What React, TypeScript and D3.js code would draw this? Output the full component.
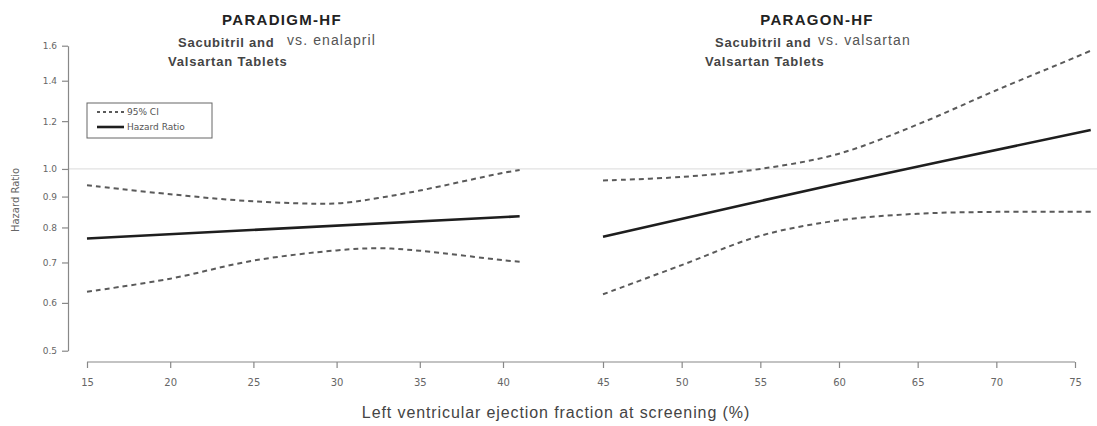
import React, {useRef, useEffect} from 'react'
import * as d3 from 'd3'

// PARADIGM-HF (LVEF 15-41)
const paradigmEf = [15, 20, 25, 30, 32.5, 35, 40, 41]
const paradigmUpper = [0.94, 0.908, 0.884, 0.877, 0.895, 0.921, 0.985, 0.996]
const paradigmLower = [0.626, 0.658, 0.705, 0.733, 0.739, 0.732, 0.706, 0.702]
const paradigmHrEf = [15, 41]
const paradigmHr = [0.767, 0.835]

// PARAGON-HF (LVEF 45-76)
const paragonEf = [45, 50, 55, 60, 65, 70, 75, 76]
const paragonUpper = [0.957, 0.97, 1.0, 1.06, 1.185, 1.35, 1.53, 1.57]
const paragonLower = [0.62, 0.693, 0.775, 0.822, 0.843, 0.849, 0.849, 0.849]
const paragonHrEf = [45, 60, 76]
const paragonHr = [0.772, 0.946, 1.16]

const leftTicks = [15, 20, 25, 30, 35, 40]
const rightTicks = [45, 50, 55, 60, 65, 70, 75]
const yTicks = [0.5, 0.6, 0.7, 0.8, 0.9, 1.0, 1.2, 1.4, 1.6]

const W = 1097
const H = 426

function App() {
  const ref: any = useRef<SVGSVGElement>(null)

  useEffect(() => {
    const svg = d3.select(ref.current)
    svg.selectAll('*').remove()

    const xLeft = d3.scaleLinear().domain([15, 40]).range([87, 503])
    const xRight = d3.scaleLinear().domain([45, 75]).range([603, 1075])
    const y = d3.scaleLog().domain([0.5, 1.6]).range([350.7, 45.7])

    // reference line at HR = 1
    svg
      .append('line')
      .attr('x1', 68)
      .attr('x2', W)
      .attr('y1', y(1))
      .attr('y2', y(1))
      .attr('stroke', '#e2e2e2')
      .attr('stroke-width', 1.2)

    // y axis
    const yAxis = svg
      .append('g')
      .attr('transform', 'translate(68,0)')
      .call(
        d3
          .axisLeft(y)
          .tickValues(yTicks)
          .tickFormat(d3.format('.1f'))
          .tickSize(6)
          .tickSizeOuter(0),
      )
    yAxis.selectAll('path,line').attr('stroke', '#888').attr('stroke-width', 1.2)
    yAxis
      .selectAll('text')
      .attr('fill', '#666')
      .attr('font-size', 9)
      .attr('font-family', 'DejaVu Sans')
      .attr('dx', -2)

    // x axis: one line, two scales
    svg
      .append('line')
      .attr('x1', xLeft(15))
      .attr('x2', xRight(75))
      .attr('y1', 362)
      .attr('y2', 362)
      .attr('stroke', '#888')
      .attr('stroke-width', 1.2)
    const drawX = (scale: any, ticks: number[]) => {
      const g = svg
        .append('g')
        .attr('transform', 'translate(0,362)')
        .call(d3.axisBottom(scale).tickValues(ticks).tickSize(6).tickSizeOuter(0))
      g.select('.domain').remove()
      g.selectAll('line').attr('stroke', '#888').attr('stroke-width', 1.2)
      g.selectAll('text')
        .attr('fill', '#666')
        .attr('font-size', 10)
        .attr('font-family', 'DejaVu Sans')
        .attr('dy', '1.5em')
    }
    drawX(xLeft, leftTicks)
    drawX(xRight, rightTicks)

    const drawLine = (scale: any, xs: number[], ys: number[], dashed: boolean) => {
      const line = d3
        .line<number>()
        .x((d, i) => scale(xs[i]))
        .y(d => y(d))
        .curve(d3.curveCatmullRom)
      svg
        .append('path')
        .datum(ys)
        .attr('d', line)
        .attr('fill', 'none')
        .attr('stroke', dashed ? '#5a5a5a' : '#1e1e1e')
        .attr('stroke-width', dashed ? 2 : 2.6)
        .attr('stroke-dasharray', dashed ? '5,4' : null)
    }
    drawLine(xLeft, paradigmEf, paradigmUpper, true)
    drawLine(xLeft, paradigmEf, paradigmLower, true)
    drawLine(xLeft, paradigmHrEf, paradigmHr, false)
    drawLine(xRight, paragonEf, paragonUpper, true)
    drawLine(xRight, paragonEf, paragonLower, true)
    drawLine(xRight, paragonHrEf, paragonHr, false)

    // legend
    const lg = svg.append('g')
    lg.append('rect')
      .attr('x', 87)
      .attr('y', 103)
      .attr('width', 125)
      .attr('height', 35)
      .attr('fill', 'white')
      .attr('stroke', '#666')
      .attr('stroke-width', 1)
    const items = [
      {label: '95% CI', dashed: true, yy: 112},
      {label: 'Hazard Ratio', dashed: false, yy: 127},
    ]
    items.forEach(it => {
      lg.append('line')
        .attr('x1', 97)
        .attr('x2', 124)
        .attr('y1', it.yy)
        .attr('y2', it.yy)
        .attr('stroke', it.dashed ? '#5a5a5a' : '#1e1e1e')
        .attr('stroke-width', it.dashed ? 2 : 2.6)
        .attr('stroke-dasharray', it.dashed ? '3,3' : null)
      lg.append('text')
        .attr('x', 127)
        .attr('y', it.yy + 3)
        .attr('font-size', 9)
        .attr('font-family', 'DejaVu Sans')
        .attr('fill', '#555')
        .text(it.label)
    })

    // y axis title
    svg
      .append('text')
      .attr('transform', 'translate(19,200) rotate(-90)')
      .attr('text-anchor', 'middle')
      .attr('font-size', 10)
      .attr('font-family', 'DejaVu Sans')
      .attr('fill', '#666')
      .text('Hazard Ratio')

    // x axis title
    svg
      .append('text')
      .attr('x', 556)
      .attr('y', 418)
      .attr('text-anchor', 'middle')
      .attr('font-size', 16)
      .attr('letter-spacing', 0.9)
      .attr('font-family', 'Liberation Sans')
      .attr('fill', '#444')
      .text('Left ventricular ejection fraction at screening (%)')

    // panel titles
    const titles = [
      {t: 'PARADIGM-HF', cx: 282, s1: 178, vs: 287, vsText: 'vs. enalapril', s2: 168},
      {t: 'PARAGON-HF', cx: 817, s1: 715, vs: 818, vsText: 'vs. valsartan', s2: 705},
    ]
    titles.forEach(p => {
      svg
        .append('text')
        .attr('x', p.cx)
        .attr('y', 25)
        .attr('text-anchor', 'middle')
        .attr('font-size', 15)
        .attr('letter-spacing', 1.3)
        .attr('font-weight', 'bold')
        .attr('font-family', 'Liberation Sans')
        .attr('fill', '#222')
        .text(p.t)
      svg
        .append('text')
        .attr('x', p.s1)
        .attr('y', 47)
        .attr('font-size', 13)
        .attr('letter-spacing', 0.75)
        .attr('font-weight', 'bold')
        .attr('font-family', 'Liberation Sans')
        .attr('fill', '#444')
        .text('Sacubitril and')
      svg
        .append('text')
        .attr('x', p.vs)
        .attr('y', 45)
        .attr('font-size', 14)
        .attr('letter-spacing', 1.1)
        .attr('font-family', 'Liberation Sans')
        .attr('fill', '#555')
        .text(p.vsText)
      svg
        .append('text')
        .attr('x', p.s2)
        .attr('y', 66)
        .attr('font-size', 13)
        .attr('letter-spacing', 0.8)
        .attr('font-weight', 'bold')
        .attr('font-family', 'Liberation Sans')
        .attr('fill', '#444')
        .text('Valsartan Tablets')
    })
  }, [])

  return (
    <svg
      ref={ref}
      width={W}
      height={H}
      style={{position: 'absolute', left: 0, top: 0, background: 'white'}}
    />
  )
}

export default App
